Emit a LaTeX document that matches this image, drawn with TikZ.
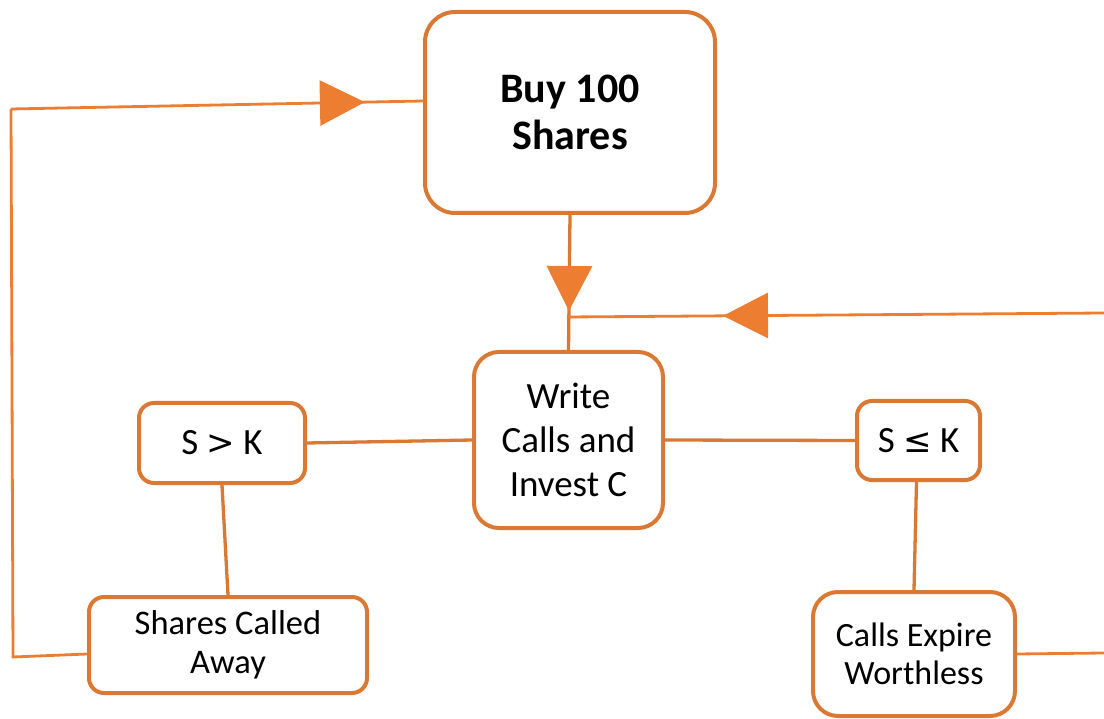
\documentclass[tikz,border=0pt]{standalone}
\usepackage{fontspec}
\setmainfont{Carlito}
\newfontfamily\symf{DejaVu Sans}
\usetikzlibrary{arrows.meta,decorations.markings}
\definecolor{boxc}{RGB}{217,121,52}
\definecolor{linec}{RGB}{237,125,49}
\tikzset{
  box/.style={draw=boxc, line width=4pt, fill=white, rectangle, inner sep=0pt, align=center, text=black},
  conn/.style={draw=boxc, line width=3.3pt},
  loopline/.style={draw=linec, line width=2.8pt},
  tri/.style={postaction=decorate, decoration={markings, mark=at position #1 with {\arrow[color=linec]{Triangle[length=45pt,width=45pt]}}}},
}
\begin{document}
\begin{tikzpicture}[x=1pt,y=-1pt]
\useasboundingbox (0,0) rectangle (1104,719);
% boxes
\node[box, minimum width=290pt, minimum height=201pt, rounded corners=30pt,
      font=\fontsize{42}{47}\selectfont\bfseries] (buy) at (570,112.5) {Buy 100\\Shares};
\node[box, minimum width=189pt, minimum height=176pt, rounded corners=25pt,
      font=\fontsize{37}{44}\selectfont] (write) at (568.5,440) {Write\\Calls and\\Invest C};
\node[box, minimum width=166pt, minimum height=80pt, rounded corners=15pt,
      font=\fontsize{37}{44}\selectfont] (sgk) at (222,443) {S {\symf\fontsize{34}{40}\selectfont >} K};
\node[box, minimum width=123pt, minimum height=79pt, rounded corners=15pt,
      font=\fontsize{37}{44}\selectfont] (slk) at (918.5,440.5) {S {\symf\fontsize{34}{40}\selectfont ≤} K};
\node[box, minimum width=278pt, minimum height=96pt, rounded corners=15pt,
      font=\fontsize{34.5}{39}\selectfont] (sca) at (228,645) {Shares Called\\Away};
\node[box, minimum width=202pt, minimum height=124pt, rounded corners=25pt,
      font=\fontsize{34}{38}\selectfont] (cew) at (914,654) {Calls Expire\\Worthless};
% coordinates
\coordinate (junc) at (568,317);
\coordinate (rin) at (1104,313);
\coordinate (rout) at (1104,653);
\coordinate (lb) at (13,657);
\coordinate (lt) at (11,109);
% connectors
\draw[conn, tri=96pt] (buy.south) -- (write.north);
\draw[loopline, tri=381pt] (rin) -- (junc);
\draw[conn] (write.west) -- (sgk.east);
\draw[conn] (write.east) -- (slk.east -| slk.west);
\draw[conn] (sgk.south) -- (sca.north);
\draw[conn] ([xshift=-2pt]slk.south) -- (cew.north);
\draw[loopline] (cew.east) -- (rout);
\draw[loopline] ([yshift=-9pt]sca.west) -- (lb) -- (lt);
\draw[loopline, tri=354pt] (lt) -- ([yshift=11.5pt]buy.west);
\end{tikzpicture}
\end{document}
